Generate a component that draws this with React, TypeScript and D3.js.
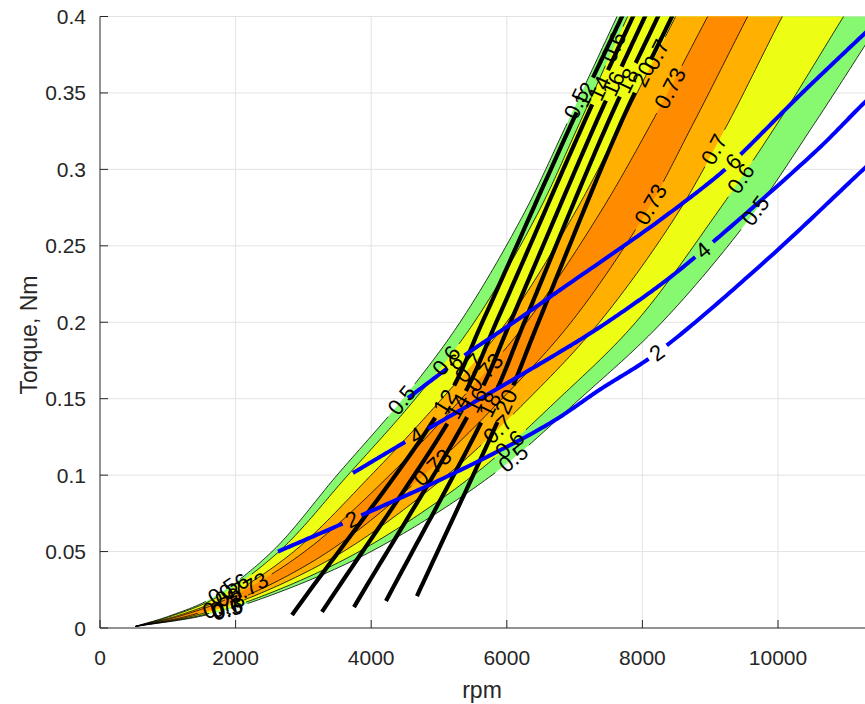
import React from "react";
import * as d3 from "d3";

// ---------- axis ticks ----------
const xTicks = [0, 2000, 4000, 6000, 8000, 10000];
const yTicks = [0, 0.05, 0.1, 0.15, 0.2, 0.25, 0.3, 0.35, 0.4];
const yTickLabels = ["0", "0.05", "0.1", "0.15", "0.2", "0.25", "0.3", "0.35", "0.4"];

// ---------- efficiency contours: rpm at each torque level ----------
const torqueLevels = [0.001, 0.008, 0.02, 0.05, 0.1, 0.15, 0.2, 0.27, 0.33, 0.4, 0.45];
const eff050Left = [520, 1032, 1667, 2537, 3496, 4469, 5310, 6239, 6888, 7625, 8156];
const eff060Left = [520, 1066, 1721, 2639, 3656, 4652, 5519, 6442, 7071, 7782, 8321];
const eff070Left = [520, 1139, 1836, 2858, 3999, 5043, 5995, 6982, 7691, 8490, 9065];
const eff073Left = [520, 1193, 1920, 3019, 4273, 5331, 6293, 7353, 8129, 8962, 9560];
const eff073Right = [520, 1310, 2104, 3369, 4776, 5931, 6948, 8029, 8750, 9552, 10138];
const eff070Right = [520, 1383, 2219, 3588, 5119, 6323, 7366, 8502, 9261, 10063, 10675];
const eff060Right = [520, 1461, 2342, 3822, 5508, 6767, 7902, 9076, 9991, 10967, 11667];
const eff050Right = [520, 1519, 2434, 3997, 5782, 7080, 8289, 9616, 10538, 11557, 12286];

// ---------- black curves (labelled 12..20) ----------
const line12Rpm = [2832, 5103, 5649, 6976, 7699, 7950];
const line12Torque = [0.0085, 0.149, 0.201, 0.332, 0.4, 0.424];
const line14Rpm = [3274, 5324, 5855, 7153, 7861, 8112];
const line14Torque = [0.0105, 0.149, 0.201, 0.332, 0.4, 0.424];
const line16Rpm = [3746, 5546, 6062, 7330, 8038, 8289];
const line16Torque = [0.0137, 0.149, 0.201, 0.332, 0.4, 0.424];
const line18Rpm = [4218, 5782, 6268, 7507, 8230, 8481];
const line18Torque = [0.0177, 0.149, 0.201, 0.332, 0.4, 0.424];
const line20Rpm = [4675, 6003, 6475, 7699, 8436, 8687];
const line20Torque = [0.0209, 0.149, 0.201, 0.332, 0.4, 0.424];

// ---------- blue curves (labelled 2, 4, 6) ----------
const blue2Rpm = [2625, 3614, 5162, 6637, 7375, 8215, 9838, 11283, 11800];
const blue2Torque = [0.05, 0.069, 0.1, 0.134, 0.156, 0.18, 0.241, 0.301, 0.322];
const blue4Rpm = [3731, 4425, 5752, 6829, 7375, 8259, 8849, 10575, 11283, 11799];
const blue4Torque = [0.1014, 0.1197, 0.1537, 0.1818, 0.1969, 0.2243, 0.2453, 0.3126, 0.344, 0.3649];
const blue6Rpm = [4543, 5088, 5428, 6150, 6785, 8259, 9174, 9484, 10324, 11283, 11799];
const blue6Torque = [0.1504, 0.1687, 0.1799, 0.2014, 0.2211, 0.2668, 0.2982, 0.3113, 0.3486, 0.3891, 0.4107];

// ---------- layout ----------
const W = 865;
const H = 704;
const PL = 100, PR = 865, PT = 16.5, PB = 628;
const FONT = "'Liberation Sans', Arial, Helvetica, sans-serif";
const LABEL_FS = 22;
const TICK_FS = 21;
const AXIS_FS = 23;

const x = d3.scaleLinear().domain([0, 10000]).range([100, 778]);
const y = d3.scaleLinear().domain([0, 0.4]).range([PB, PT]);

type Pt = [number, number];

function catmull(pts: Pt[], n = 30): Pt[] {
  if (pts.length < 3) return pts;
  const first: Pt = [2 * pts[0][0] - pts[1][0], 2 * pts[0][1] - pts[1][1]];
  const L = pts.length;
  const last: Pt = [2 * pts[L - 1][0] - pts[L - 2][0], 2 * pts[L - 1][1] - pts[L - 2][1]];
  const P = [first, ...pts, last];
  const out: Pt[] = [];
  const dist = (a: Pt, b: Pt) => Math.max(Math.pow(Math.hypot(b[0] - a[0], b[1] - a[1]), 0.5), 1e-6);
  for (let i = 1; i < P.length - 2; i++) {
    const p0 = P[i - 1], p1 = P[i], p2 = P[i + 1], p3 = P[i + 2];
    const t0 = 0, t1 = t0 + dist(p0, p1), t2 = t1 + dist(p1, p2), t3 = t2 + dist(p2, p3);
    for (let k = 0; k < n; k++) {
      const t = t1 + ((t2 - t1) * k) / n;
      const lerp = (a: Pt, b: Pt, ta: number, tb: number): Pt => [
        ((tb - t) / (tb - ta)) * a[0] + ((t - ta) / (tb - ta)) * b[0],
        ((tb - t) / (tb - ta)) * a[1] + ((t - ta) / (tb - ta)) * b[1],
      ];
      const A1 = lerp(p0, p1, t0, t1), A2 = lerp(p1, p2, t1, t2), A3 = lerp(p2, p3, t2, t3);
      const B1 = lerp(A1, A2, t0, t2), B2 = lerp(A2, A3, t1, t3);
      out.push(lerp(B1, B2, t1, t2));
    }
  }
  out.push(pts[L - 1]);
  return out;
}

function dense(rpm: number[], tq: number[]): Pt[] {
  return catmull(rpm.map((r, i) => [x(r), y(tq[i])] as Pt));
}

function textWidth(s: string, fs: number) {
  return s.split("").reduce((a, c) => a + (c === "." ? 0.278 : 0.556), 0) * fs;
}

type Label = { x: number; y: number; angle: number; text: string; r: number };

function placeLabel(d: Pt[], torque: number, text: string): Label | null {
  const ty = y(torque);
  for (let i = 0; i < d.length - 1; i++) {
    const a = d[i], b = d[i + 1];
    if ((a[1] - ty) * (b[1] - ty) <= 0 && a[1] !== b[1]) {
      const t = (ty - a[1]) / (b[1] - a[1]);
      const pa = d[Math.max(0, i - 3)], pb = d[Math.min(d.length - 1, i + 4)];
      let ang = (Math.atan2(pb[1] - pa[1], pb[0] - pa[0]) * 180) / Math.PI;
      if (ang > 90) ang -= 180;
      if (ang < -90) ang += 180;
      return { x: a[0] + t * (b[0] - a[0]), y: ty, angle: ang, text, r: textWidth(text, LABEL_FS) / 2 + 4 };
    }
  }
  return null;
}

function runs(d: Pt[], holes: Label[]): Pt[][] {
  const out: Pt[][] = [];
  let cur: Pt[] = [];
  for (const p of d) {
    const inHole = holes.some((h) => Math.hypot(p[0] - h.x, p[1] - h.y) < h.r);
    if (inHole) {
      if (cur.length > 1) out.push(cur);
      cur = [];
    } else cur.push(p);
  }
  if (cur.length > 1) out.push(cur);
  return out;
}

const lineGen = d3.line<Pt>();

// efficiency contour definitions (label positions given as torque values)
const effCurves = [
  { rpm: eff050Left, text: "0.5", at: [0.343, 0.149, 0.024] },
  { rpm: eff060Left, text: "0.6", at: [0.38, 0.175, 0.027] },
  { rpm: eff070Left, text: "0.7", at: [0.375, 0.17, 0.022] },
  { rpm: eff073Left, text: "0.73", at: [0.353, 0.167, 0.026] },
  { rpm: eff073Right, text: "0.73", at: [0.277, 0.105, 0.015] },
  { rpm: eff070Right, text: "0.7", at: [0.313, 0.13, 0.014] },
  { rpm: eff060Right, text: "0.6", at: [0.294, 0.12, 0.013] },
  { rpm: eff050Right, text: "0.5", at: [0.273, 0.111, 0.012] },
];

const bands = [
  { left: eff050Left, right: eff050Right, color: "#86F970" },
  { left: eff060Left, right: eff060Right, color: "#EDFD14" },
  { left: eff070Left, right: eff070Right, color: "#FFB000" },
  { left: eff073Left, right: eff073Right, color: "#FF8C00" },
];

const blackCurves = [
  { rpm: line12Rpm, tq: line12Torque, text: "12", at: [0.148, 0.349] },
  { rpm: line14Rpm, tq: line14Torque, text: "14", at: [0.145, 0.353] },
  { rpm: line16Rpm, tq: line16Torque, text: "16", at: [0.149, 0.356] },
  { rpm: line18Rpm, tq: line18Torque, text: "18", at: [0.146, 0.358] },
  { rpm: line20Rpm, tq: line20Torque, text: "20", at: [0.148, 0.362] },
];

const blueCurves = [
  { rpm: blue2Rpm, tq: blue2Torque, text: "2", at: [0.071, 0.18] },
  { rpm: blue4Rpm, tq: blue4Torque, text: "4", at: [0.126, 0.247] },
  { rpm: blue6Rpm, tq: blue6Torque, text: "6", at: [0.174, 0.305] },
];

function build(rpm: number[], tq: number[], text: string, at: number[]) {
  const d = dense(rpm, tq);
  const labels = at.map((t) => placeLabel(d, t, text)).filter(Boolean) as Label[];
  return { d, labels, parts: runs(d, labels) };
}

export default function App() {
  const eff = effCurves.map((c) => build(c.rpm, torqueLevels, c.text, c.at));
  const blk = blackCurves.map((c) => build(c.rpm, c.tq, c.text, c.at));
  const blu = blueCurves.map((c) => build(c.rpm, c.tq, c.text, c.at));
  const bandPaths = bands.map((b) => {
    const l = dense(b.left, torqueLevels);
    const r = dense(b.right, torqueLevels).slice().reverse();
    return { path: lineGen([...l, ...r]) + "Z", color: b.color };
  });
  const allLabels = [...eff, ...blk, ...blu].flatMap((c) => c.labels);

  return (
    <div style={{ position: "absolute", left: 0, top: 0 }}>
      <svg width={W} height={H} style={{ display: "block", background: "#fff", fontFamily: FONT }}>
        <defs>
          <clipPath id="plotClip">
            <rect x={PL} y={PT} width={PR - PL} height={PB - PT} />
          </clipPath>
        </defs>
        {/* grid */}
        <g stroke="#e3e3e3" strokeWidth={1}>
          {xTicks.filter((t) => t > 0).map((t) => (
            <line key={"gx" + t} x1={x(t)} x2={x(t)} y1={PT} y2={PB} />
          ))}
          {yTicks.filter((t) => t > 0).map((t) => (
            <line key={"gy" + t} x1={PL} x2={PR} y1={y(t)} y2={y(t)} />
          ))}
        </g>
        <g clipPath="url(#plotClip)">
          {bandPaths.map((b, i) => (
            <path key={"band" + i} d={b.path} fill={b.color} stroke="none" />
          ))}
          {eff.map((c, i) =>
            c.parts.map((p, j) => (
              <path key={`e${i}-${j}`} d={lineGen(p) || ""} fill="none" stroke="#000" strokeWidth={0.8} />
            ))
          )}
          {blk.map((c, i) =>
            c.parts.map((p, j) => (
              <path key={`k${i}-${j}`} d={lineGen(p) || ""} fill="none" stroke="#000" strokeWidth={4.2} />
            ))
          )}
          {blu.map((c, i) =>
            c.parts.map((p, j) => (
              <path key={`b${i}-${j}`} d={lineGen(p) || ""} fill="none" stroke="#0000FF" strokeWidth={4} />
            ))
          )}
          {allLabels.map((l, i) => (
            <text
              key={"lab" + i}
              transform={`translate(${l.x},${l.y}) rotate(${l.angle})`}
              textAnchor="middle"
              dominantBaseline="central"
              fontSize={LABEL_FS}
              fill="#000"
            >
              {l.text}
            </text>
          ))}
        </g>
        {/* axes */}
        <g stroke="#262626" strokeWidth={1}>
          <line x1={PL} x2={PL} y1={PT} y2={PB} />
          <line x1={PL} x2={PR} y1={PB} y2={PB} />
          {xTicks.map((t) => (
            <line key={"tx" + t} x1={x(t)} x2={x(t)} y1={PB} y2={PB - 8} />
          ))}
          {yTicks.map((t) => (
            <line key={"ty" + t} x1={PL} x2={PL + 8} y1={y(t)} y2={y(t)} />
          ))}
        </g>
        <g fill="#262626" fontSize={TICK_FS}>
          {xTicks.map((t) => (
            <text key={"lx" + t} x={x(t)} y={665} textAnchor="middle">
              {t}
            </text>
          ))}
          {yTicks.map((t, i) => (
            <text key={"ly" + t} x={86} y={y(t)} textAnchor="end" dominantBaseline="central">
              {yTickLabels[i]}
            </text>
          ))}
        </g>
        <text x={482} y={698} textAnchor="middle" fontSize={AXIS_FS} fill="#262626">
          rpm
        </text>
        <text
          transform={`translate(37,335) rotate(-90)`}
          textAnchor="middle"
          fontSize={AXIS_FS}
          fill="#262626"
        >
          Torque, Nm
        </text>
      </svg>
    </div>
  );
}
